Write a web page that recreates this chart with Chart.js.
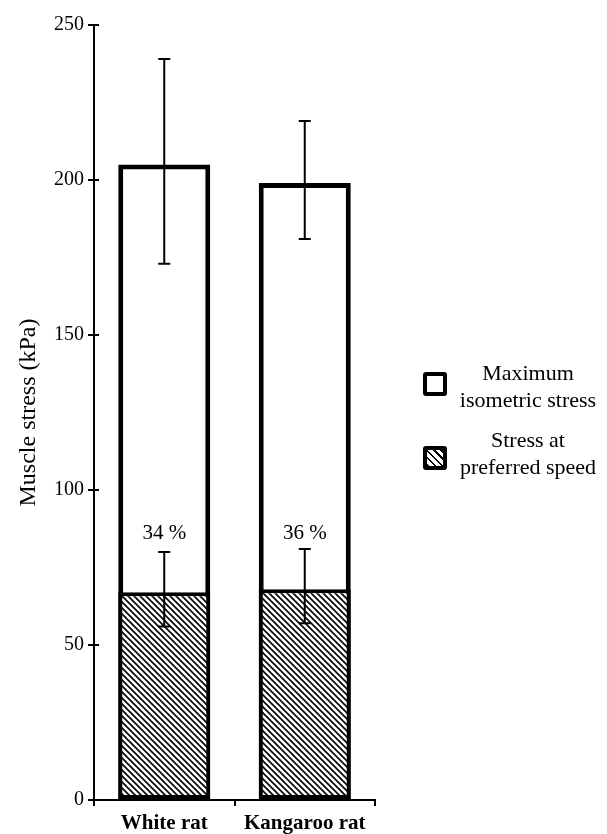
<!DOCTYPE html>
<html>
<head>
<meta charset="utf-8">
<script src="https://cdn.jsdelivr.net/npm/chart.js@4/dist/chart.umd.min.js"></script>
<style>
  body { margin: 0; background: #fff; }
  #wrap { position: relative; width: 607px; height: 834px; }
  .leg { position: absolute; font-family: "Liberation Serif", serif; font-size: 22px; color: #000; text-align: center; line-height: 27px; }
  .box { position: absolute; width: 16px; height: 16px; border: 4px solid #000; border-radius: 3px; background: #fff; }
  .hatch { background: repeating-linear-gradient(45deg, #000 0 2px, #fff 2px 5px); }
</style>
</head>
<body>
<div id="wrap">
  <canvas id="stress" width="607" height="834"></canvas>
  <div class="box" style="left:423px; top:372px;"></div>
  <div class="leg" style="left:443px; top:359px; width:170px;">Maximum<br>isometric stress</div>
  <div class="box hatch" style="left:423px; top:446px;"></div>
  <div class="leg" style="left:443px; top:426px; width:170px;">Stress at<br>preferred speed</div>
</div>
<script>
// datos
const animals = ['White rat', 'Kangaroo rat'];
const maxStress = [205, 199];
const maxErrLow = [173, 181];
const maxErrHigh = [239, 219];
const prefStress = [67, 68];
const prefErrLow = [56, 57];
const prefErrHigh = [80, 81];
const percentLabels = ['34 %', '36 %'];
const yTicks = [0, 50, 100, 150, 200, 250];

// trama rayada
function makeHatch() {
  const c = document.createElement('canvas');
  c.width = 6; c.height = 6;
  const g = c.getContext('2d');
  g.fillStyle = '#fff';
  g.fillRect(0, 0, 6, 6);
  g.strokeStyle = '#000';
  g.lineWidth = 1.6;
  g.beginPath();
  g.moveTo(-1, -1); g.lineTo(7, 7);
  g.moveTo(-4, 2); g.lineTo(4, 10);
  g.moveTo(2, -4); g.lineTo(10, 4);
  g.stroke();
  return g.createPattern(c, 'repeat');
}

const errorBars = {
  id: 'errorBars',
  afterDatasetsDraw(chart) {
    const ctx = chart.ctx;
    const y = chart.scales.y;
    const x = chart.scales.x;
    ctx.save();
    ctx.strokeStyle = '#000';
    ctx.lineWidth = 2;
    const draw = (xp, lo, hi) => {
      ctx.beginPath();
      ctx.moveTo(xp, y.getPixelForValue(lo));
      ctx.lineTo(xp, y.getPixelForValue(hi));
      [lo, hi].forEach(v => {
        ctx.moveTo(xp - 6, y.getPixelForValue(v));
        ctx.lineTo(xp + 6, y.getPixelForValue(v));
      });
      ctx.stroke();
    };
    animals.forEach((a, i) => {
      const xp = x.getPixelForValue(i);
      draw(xp, maxErrLow[i], maxErrHigh[i]);
      draw(xp, prefErrLow[i], prefErrHigh[i]);
      ctx.fillStyle = '#000';
      ctx.font = '21px "Liberation Serif"';
      ctx.textAlign = 'center';
      ctx.textBaseline = 'middle';
      ctx.fillText(percentLabels[i], xp, y.getPixelForValue(86));
    });
    // marcas hacia dentro del eje y
    yTicks.forEach(v => {
      ctx.beginPath();
      ctx.moveTo(x.left, y.getPixelForValue(v));
      ctx.lineTo(x.left + 5, y.getPixelForValue(v));
      ctx.stroke();
    });
    ctx.restore();
  }
};

new Chart(document.getElementById('stress'), {
  type: 'bar',
  data: {
    labels: animals,
    datasets: [
      {
        label: 'Stress at preferred speed',
        data: prefStress,
        backgroundColor: makeHatch(),
        borderColor: '#000',
        borderWidth: 4,
        borderSkipped: false,
        order: 0
      },
      {
        label: 'Maximum isometric stress',
        data: maxStress,
        backgroundColor: '#fff',
        borderColor: '#000',
        borderWidth: 5,
        borderSkipped: false,
        order: 1
      }
    ]
  },
  plugins: [errorBars],
  options: {
    responsive: false,
    animation: false,
    layout: { padding: { top: 25, right: 232, left: 0, bottom: 0 } },
    plugins: { legend: { display: false }, tooltip: { enabled: false } },
    datasets: { bar: { grouped: false, categoryPercentage: 1, barPercentage: 0.655 } },
    scales: {
      x: {
        offset: true,
        grid: { offset: true, drawOnChartArea: false, color: '#000', lineWidth: 2, tickLength: 6 },
        border: { color: '#000', width: 2 },
        ticks: { color: '#000', padding: 5, font: { family: 'Liberation Serif', size: 21, weight: 'bold' } },
        afterFit(s) { s.height = 34; }
      },
      y: {
        min: 0, max: 250,
        afterBuildTicks(s) { s.ticks = yTicks.map(v => ({ value: v })); },
        grid: { drawOnChartArea: false, color: '#000', lineWidth: 2, tickLength: 6 },
        border: { color: '#000', width: 2 },
        ticks: { color: '#000', padding: 4, font: { family: 'Liberation Serif', size: 20 } },
        title: { display: true, text: 'Muscle stress (kPa)', color: '#000', padding: { top: 14, bottom: 0 }, font: { family: 'Liberation Serif', size: 24 } },
        afterFit(s) { s.width = 94; }
      }
    }
  }
});
</script>
</body>
</html>
